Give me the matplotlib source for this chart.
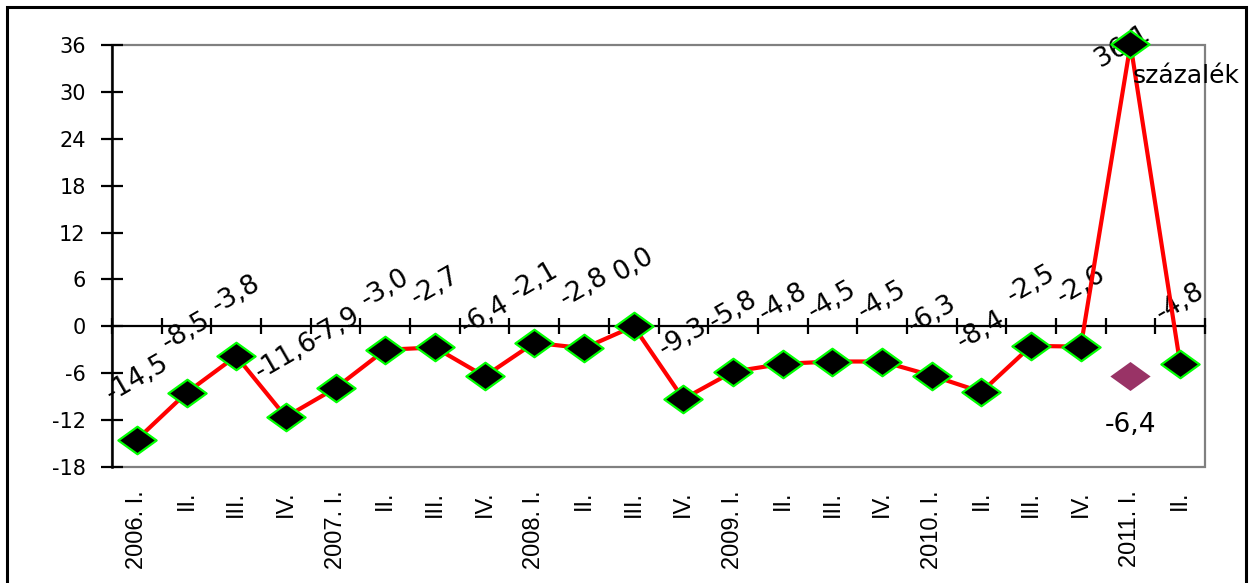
import matplotlib
matplotlib.use("Agg")
import matplotlib.pyplot as plt
from matplotlib.path import Path
from matplotlib.patches import Rectangle
from matplotlib import font_manager

# ---- data ----
categories = ["2006. I.", "II.", "III.", "IV.",
              "2007. I.", "II.", "III.", "IV.",
              "2008. I.", "II.", "III.", "IV.",
              "2009. I.", "II.", "III.", "IV.",
              "2010. I.", "II.", "III.", "IV.",
              "2011. I.", "II."]
values = [-14.5, -8.5, -3.8, -11.6, -7.9, -3.0, -2.7, -6.4, -2.1, -2.8, 0.0,
          -9.3, -5.8, -4.8, -4.5, -4.5, -6.3, -8.4, -2.5, -2.6, 36.1, -4.8]
extra_index = 20
extra_value = -6.4
yticks = [-18, -12, -6, 0, 6, 12, 18, 24, 30, 36]
unit_label = "százalék"

def fmt(v):
    return f"{v:.1f}".replace(".", ",")

names = {f.name for f in font_manager.fontManager.ttflist}
narrow = None
for cand in ["Liberation Sans Narrow", "DejaVu Sans Condensed", "Liberation Sans"]:
    if cand in names:
        narrow = cand
        break

W, H = 1252, 583
fig = plt.figure(figsize=(W / 100, H / 100), dpi=100)
ax = fig.add_axes([112 / W, 1 - 467 / H, (1205 - 112) / W, (467 - 45) / H])

# plot-area gray frame
ax.add_patch(Rectangle((0, 0), 1, 1, transform=ax.transAxes, fill=False,
                       edgecolor="#808080", lw=1.6, clip_on=False, zorder=1))

x = [i + 0.5 for i in range(len(values))]
diamond = Path([(-0.5, 0), (0, 0.36), (0.5, 0), (0, -0.36), (-0.5, 0)],
               [Path.MOVETO, Path.LINETO, Path.LINETO, Path.LINETO, Path.CLOSEPOLY])

ax.plot(x, values, color="#FF0000", lw=3, zorder=4, clip_on=False)
ax.plot(x, values, ls="none", marker=diamond, markersize=27.5,
        markerfacecolor="black", markeredgecolor="#00FF00", markeredgewidth=1.6,
        zorder=5, clip_on=False)
ax.plot([x[extra_index]], [extra_value], ls="none", marker=diamond, markersize=29,
        markerfacecolor="#993366", markeredgecolor="none", zorder=5, clip_on=False)

# data labels
for i, v in enumerate(values):
    if v > 30:
        off = (-6, -2)
    else:
        off = (0, 44)
    ax.annotate(fmt(v), (x[i], v), xytext=off, textcoords="offset points",
                ha="center", va="center", rotation=30, rotation_mode="anchor",
                fontsize=19, family="DejaVu Sans", color="black", zorder=2,
                annotation_clip=False)
ax.annotate(fmt(extra_value), (x[extra_index], extra_value), xytext=(0, -35),
            textcoords="offset points", ha="center", va="center",
            fontsize=19, family="DejaVu Sans", color="black", zorder=2)

ax.set_xlim(0, len(values))
ax.set_ylim(-18, 36)
ax.set_yticks(yticks)
ax.set_yticklabels([str(t) for t in yticks])
ax.set_xticks(range(len(values) + 1))
ax.set_xticklabels([])

for s in ["top", "right"]:
    ax.spines[s].set_visible(False)
ax.spines["left"].set_linewidth(1.8)
ax.spines["left"].set_color("black")
ax.spines["bottom"].set_position(("data", 0))
ax.spines["bottom"].set_linewidth(1.6)
ax.spines["bottom"].set_color("black")

ax.tick_params(axis="y", direction="inout", length=16, width=1.6, pad=11,
               labelsize=15, colors="black")
ax.tick_params(axis="x", direction="inout", length=11, width=1.6)
for lab in ax.get_yticklabels():
    lab.set_family("DejaVu Sans")

# category labels at the bottom
for i, c in enumerate(categories):
    ax.annotate(c, (x[i], 0), xycoords=("data", "axes fraction"),
                xytext=(0, -17), textcoords="offset points",
                rotation=90, ha="center", va="top", fontsize=17,
                family=narrow, color="black", annotation_clip=False)

fig.text(1133 / W, 1 - 76 / H, unit_label, ha="left", va="center",
         fontsize=18, family="DejaVu Sans", color="black")

# outer border
fig.patches.append(Rectangle((7 / W, -0.1), (1246 - 7) / W, 1.1 - 7 / H,
                             transform=fig.transFigure, fill=False,
                             edgecolor="black", lw=2.2, zorder=0))

fig.savefig("out.png", dpi=100)
